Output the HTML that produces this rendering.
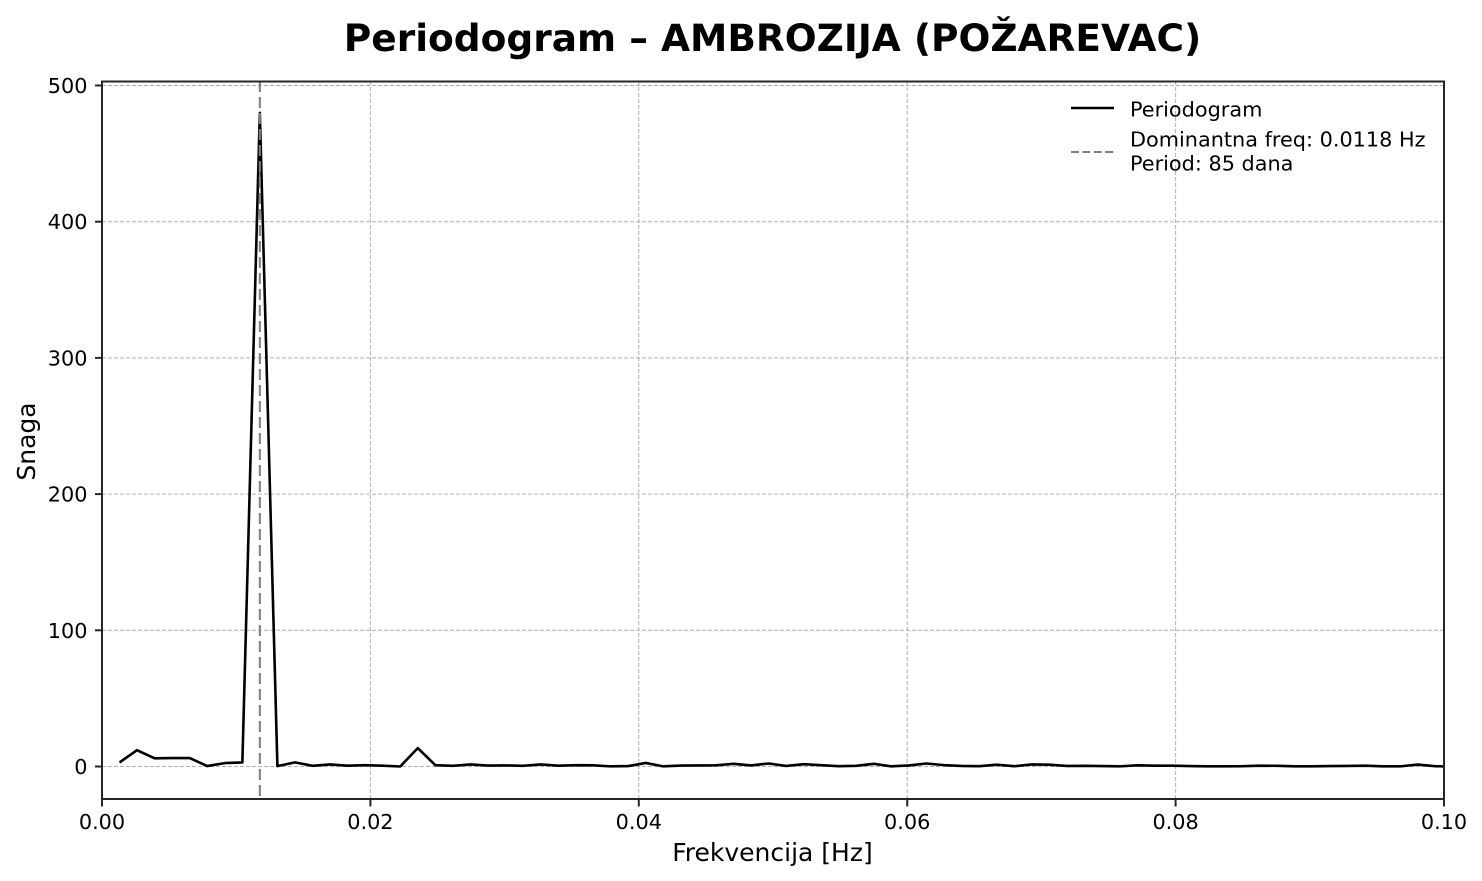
<!DOCTYPE html>
<html lang="sr">
<head>
<meta charset="utf-8">
<title>Periodogram – AMBROZIJA (POŽAREVAC)</title>
<style>
html,body{margin:0;padding:0;background:#fff;}
svg{display:block;}
text{font-family:"DejaVu Sans","Liberation Sans",sans-serif;fill:#000;}
</style>
</head>
<body>
<svg id="chart" xmlns="http://www.w3.org/2000/svg" width="1482" height="881" viewBox="0 0 1482 881">
  <rect x="0" y="0" width="1482" height="881" fill="#fff"/>
  <defs><clipPath id="plot-clip"><rect x="102" y="81" width="1342" height="718"/></clipPath></defs>
  <text x="772.5" y="51" text-anchor="middle" font-size="37.5" font-weight="700">Periodogram – AMBROZIJA (POŽAREVAC)</text>
  <g id="grid"></g>
  <g clip-path="url(#plot-clip)">
    <polyline id="series-line" fill="none" stroke="#000" stroke-width="2.6" stroke-linejoin="round"/>
    <line id="dominant-line" stroke="#808080" stroke-width="2.1" stroke-dasharray="11 5"/>
  </g>
  <rect x="102" y="81.5" width="1342" height="717.5" fill="none" stroke="#262626" stroke-width="2"/>
  <g id="ticks"></g>
  <text x="772.5" y="861" text-anchor="middle" font-size="25">Frekvencija [Hz]</text>
  <text transform="translate(35 441.5) rotate(-90)" text-anchor="middle" font-size="25">Snaga</text>
  <g>
    <line x1="1071" y1="108" x2="1114" y2="108" stroke="#000" stroke-width="2.6"/>
    <text x="1130" y="116.5" font-size="20.8">Periodogram</text>
    <line x1="1071" y1="152" x2="1114" y2="152" stroke="#808080" stroke-width="2.1" stroke-dasharray="8 3.4"/>
    <text x="1130" y="146.5" font-size="20.8">Dominantna freq: 0.0118 Hz</text>
    <text x="1130" y="170.5" font-size="20.8">Period: 85 dana</text>
  </g>
</svg>
<script>
const frequencies = [0.00131,0.00261,0.00392,0.00523,0.00654,0.00784,0.00915,0.01046,0.01176,0.01307,0.01438,0.01569,0.01699,0.01830,0.01961,0.02092,0.02222,0.02353,0.02484,0.02614,0.02745,0.02876,0.03007,0.03137,0.03268,0.03399,0.03529,0.03660,0.03791,0.03922,0.04052,0.04183,0.04314,0.04444,0.04575,0.04706,0.04837,0.04967,0.05098,0.05229,0.05359,0.05490,0.05621,0.05752,0.05882,0.06013,0.06144,0.06275,0.06405,0.06536,0.06667,0.06797,0.06928,0.07059,0.07190,0.07320,0.07451,0.07582,0.07712,0.07843,0.07974,0.08105,0.08235,0.08366,0.08497,0.08627,0.08758,0.08889,0.09020,0.09150,0.09281,0.09412,0.09542,0.09673,0.09804,0.09935,0.10065];
const power = [3,12,6,6.2,6.2,0.3,2.5,3,480,0.3,3,0.5,1.5,0.6,1,0.6,0,13.5,1,0.5,1.5,0.7,0.8,0.5,1.5,0.6,1,0.9,0.1,0.3,2.6,0.1,0.7,0.8,0.9,2,0.8,2.2,0.4,1.7,1,0.2,0.5,2,0.1,0.8,2.2,1,0.4,0.2,1.3,0.2,1.5,1.3,0.4,0.5,0.3,0.1,0.9,0.6,0.6,0.3,0.1,0.1,0.2,0.6,0.5,0.1,0.1,0.3,0.4,0.6,0.1,0.1,1.4,0.2,0];
const dominantFrequency = [0.01176];
const xTicks = [0, 0.02, 0.04, 0.06, 0.08, 0.1];
const xTickLabels = ["0.00", "0.02", "0.04", "0.06", "0.08", "0.10"];
const yTicks = [0, 100, 200, 300, 400, 500];
const yTickLabels = ["0", "100", "200", "300", "400", "500"];

const SVG_NS = "http://www.w3.org/2000/svg";
function xScale(v) { return 102 + (v / 0.1) * 1342; }
function yScale(v) { return 766.5 - (v / 500) * 681; }

const gridGroup = document.getElementById("grid");
const tickGroup = document.getElementById("ticks");

function makeLine(parent, x1, y1, x2, y2, stroke, width, dash) {
  const l = document.createElementNS(SVG_NS, "line");
  l.setAttribute("x1", x1);
  l.setAttribute("y1", y1);
  l.setAttribute("x2", x2);
  l.setAttribute("y2", y2);
  l.setAttribute("stroke", stroke);
  l.setAttribute("stroke-width", width);
  if (dash) l.setAttribute("stroke-dasharray", dash);
  parent.appendChild(l);
  return l;
}
function makeText(parent, x, y, anchor, content) {
  const t = document.createElementNS(SVG_NS, "text");
  t.setAttribute("x", x);
  t.setAttribute("y", y);
  t.setAttribute("text-anchor", anchor);
  t.setAttribute("font-size", "20.8");
  t.textContent = content;
  parent.appendChild(t);
  return t;
}

xTicks.forEach(function (v, i) {
  const x = xScale(v);
  if (i > 0 && i < xTicks.length - 1) {
    const g = makeLine(gridGroup, x, 81, x, 799, "#b0b0b0", 1, "4 2");
    
    
  }
  const tick = makeLine(tickGroup, x, 799, x, 806.5, "#262626", 2);
  
  
  const label = makeText(tickGroup, x, 829, "middle", xTickLabels[i]);
  
  
});

yTicks.forEach(function (v, i) {
  const y = yScale(v);
  const g = makeLine(gridGroup, 102, y, 1444, y, "#b0b0b0", 1, "4 2");
  
  
  const tick = makeLine(tickGroup, 95, y, 102, y, "#262626", 2);
  
  
  const label = makeText(tickGroup, 87.5, y + 7.5, "end", yTickLabels[i]);
  
  
});

document.getElementById("series-line").setAttribute("points", frequencies.map(function (f, i) {
  return xScale(f).toFixed(2) + "," + yScale(power[i]).toFixed(2);
}).join(" "));

const dominantLine = document.getElementById("dominant-line");
dominantLine.setAttribute("x1", xScale(dominantFrequency[0]));
dominantLine.setAttribute("x2", xScale(dominantFrequency[0]));
dominantLine.setAttribute("y1", 81);
dominantLine.setAttribute("y2", 799);
</script>
</body>
</html>
